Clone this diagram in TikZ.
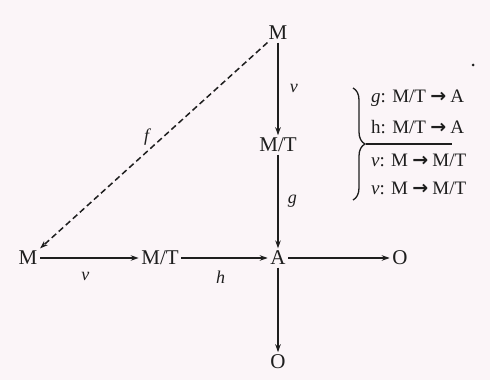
\documentclass[tikz,border=0pt]{standalone}
\usepackage{fontspec}
\setmainfont{Liberation Serif}
\newfontfamily\arrowfont{DejaVu Sans}
\usepackage{xcolor}
\usepackage{tikz}
\usetikzlibrary{arrows.meta, positioning, calc, decorations.pathreplacing}

\definecolor{paper}{RGB}{251,245,248}
\definecolor{ink}{RGB}{30,30,30}
\newcommand{\mapto}{\hspace{0.22em}{\arrowfont\bfseries →}\hspace{0.22em}}

\begin{document}
\begin{tikzpicture}[
    x=1pt, y=1pt,
    on grid,
    obj/.style={inner sep=2.5pt, font=\fontsize{21}{23}\selectfont, text=ink},
    arrow/.style={-{Stealth[length=8pt, width=5.5pt]}, line width=1.3pt, draw=ink},
    dasharrow/.style={arrow, line width=1.5pt, dash pattern=on 6pt off 3.5pt},
    lbl/.style={font=\fontsize{18}{20}\selectfont\itshape, text=ink},
    legend/.style={anchor=west, inner sep=0pt, font=\fontsize{19}{21}\selectfont, text=ink},
]
\useasboundingbox[fill=paper] (0,0) rectangle (490,380);

% Objects of the diagram
\node[obj] (A) at (278,122) {A};
\node[obj, above=113pt of A] (mt) {M/T};
\node[obj, above=112pt of mt] (mtop) {M};
\node[obj, left=118pt of A] (mtl) {M/T};
\node[obj, left=132pt of mtl] (ml) {M};
\node[obj, right=122pt of A] (or) {O};
\node[obj, below=104pt of A] (ob) {O};

% Arrows
\draw[arrow] (mtop) -- node[lbl, right=8pt] {v} (mt);
\draw[arrow] (mt) -- node[lbl, right=6pt] {g} (A);
\draw[arrow] (ml) -- node[lbl, below=10pt, xshift=-4pt] {v} (mtl);
\draw[arrow] (mtl) -- node[lbl, below=9pt, xshift=-4pt] {h} (A);
\draw[arrow] (A) -- (or);
\draw[arrow] (A) -- (ob);
\draw[dasharrow] (mtop) -- node[lbl, xshift=-7pt, yshift=8pt] {f} (ml.north east);

% Legend with brace
\coordinate (btop) at (353,292);
\coordinate (bbot) at (353,180);
\coordinate (btip) at (366,236);
\coordinate (bend) at (452,236);
\draw[line width=1.3pt, ink, decorate, decoration={brace, amplitude=12pt}] (btop) -- (bbot);
\draw[line width=1.3pt, ink] (btip) -- (bend);
\node[legend] (lg) at (371,282) {\textit{g}: M/T\mapto A};
\node[legend] (lh) at (371,253) {h: M/T\mapto A};
\node[legend] (lv) at (371,220) {\textit{v}: M\mapto M/T};
\node[legend] (lw) at (371,192) {\textit{v}: M\mapto M/T};

\fill[ink] (473,315) circle (1.5);
\end{tikzpicture}
\end{document}
